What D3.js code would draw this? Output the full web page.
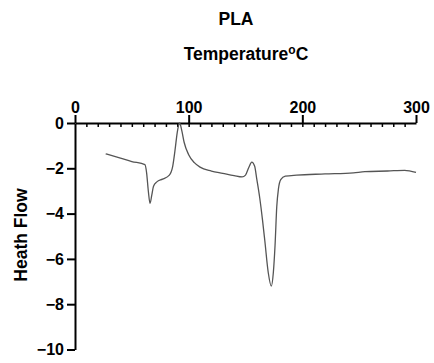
<!DOCTYPE html>
<html lang="en">
<head>
<meta charset="UTF-8">
<title>PLA DSC</title>
<style type="text/css">
	body { margin: 0; background: #fff; font-family: "Liberation Sans", Arial, sans-serif; }
	.axis text { font-size: 16px; font-weight: bold; fill: #000; font-family: "Liberation Sans", Arial, sans-serif; }
	.axis path, .axis line { fill: none; stroke: #000; stroke-width: 2px; }
	.minor line { stroke: #000; stroke-width: 1.5px; }
	.minor path { display: none; }
	.label { font-size: 17.5px; font-weight: bold; fill: #000; }
</style>
<script src="https://d3js.org/d3.v7.min.js"></script>
</head>
<body>
<script type="text/javascript">
// Data
var temperature = [27, 40, 50, 61.5, 63, 64.5, 66, 67.5, 69, 72, 77, 83, 86, 88, 90, 92, 94, 96, 100, 105, 110, 120, 130, 140, 147, 150, 153, 155.5, 158, 160, 162.5, 165, 167, 170, 172.7, 174.5, 176, 177.5, 179, 181, 185, 195, 220, 245, 255, 275, 290, 300];
var heatFlow = [-1.36, -1.55, -1.7, -1.84, -2.2, -3.0, -3.55, -3.2, -2.8, -2.6, -2.48, -2.3, -1.9, -1.2, -0.4, 0, -0.35, -0.85, -1.4, -1.75, -1.95, -2.12, -2.22, -2.32, -2.38, -2.3, -1.95, -1.73, -1.9, -2.5, -3.3, -4.3, -5.2, -6.6, -7.2, -6.6, -5.4, -3.7, -2.9, -2.5, -2.35, -2.3, -2.25, -2.2, -2.15, -2.12, -2.09, -2.18];
var xTicks = [0, 100, 200, 300];
var yTicks = [0, -2, -4, -6, -8, -10];

var fullWidth = 434, fullHeight = 363;

var svg = d3.select('body').append('svg')
	.attr('width', fullWidth)
	.attr('height', fullHeight);

var xScale = d3.scaleLinear().domain([0, 300]).range([75, 416]);
var yScale = d3.scaleLinear().domain([0, -10]).range([123, 349.5]);

var data = temperature.map(function(t, i){ return {x: t, y: heatFlow[i]}; });

// Minor ticks pointing down (inside)
svg.append('g')
	.attr('class', 'minor')
	.attr('transform', 'translate(0,' + yScale(0) + ')')
	.call(d3.axisBottom(xScale).tickValues(d3.range(10, 300, 10)).tickSize(4).tickFormat(''));

// Top x axis
svg.append('g')
	.attr('class', 'x axis')
	.attr('transform', 'translate(0,' + yScale(0) + ')')
	.call(d3.axisTop(xScale).tickValues(xTicks).tickSize(8).tickSizeOuter(0).tickPadding(2));

// Left y axis
svg.append('g')
	.attr('class', 'y axis')
	.attr('transform', 'translate(' + xScale(0) + ',0)')
	.call(d3.axisLeft(yScale).tickValues(yTicks).tickSize(8).tickSizeOuter(0).tickPadding(3));

// Curve
svg.append('path')
	.datum(data)
	.attr('fill', 'none')
	.attr('stroke', '#555')
	.attr('stroke-width', 1.3)
	.attr('d', d3.line()
		.x(function(d){ return xScale(d.x); })
		.y(function(d){ return yScale(d.y); })
		.curve(d3.curveMonotoneX));

// Titles
svg.append('text')
	.attr('class', 'label')
	.attr('x', 236)
	.attr('y', 25)
	.attr('text-anchor', 'middle')
	.text('PLA');

var xLabel = svg.append('text')
	.attr('class', 'label')
	.attr('x', 246)
	.attr('y', 60)
	.attr('text-anchor', 'middle');
xLabel.append('tspan').text('Temperature');
xLabel.append('tspan').attr('dy', -6).style('font-size', '12px').text('o');
xLabel.append('tspan').attr('dy', 6).text('C');

svg.append('text')
	.attr('class', 'label')
	.attr('transform', 'translate(27,235) rotate(-90)')
	.attr('text-anchor', 'middle')
	.text('Heath Flow');
</script>
</body>
</html>
